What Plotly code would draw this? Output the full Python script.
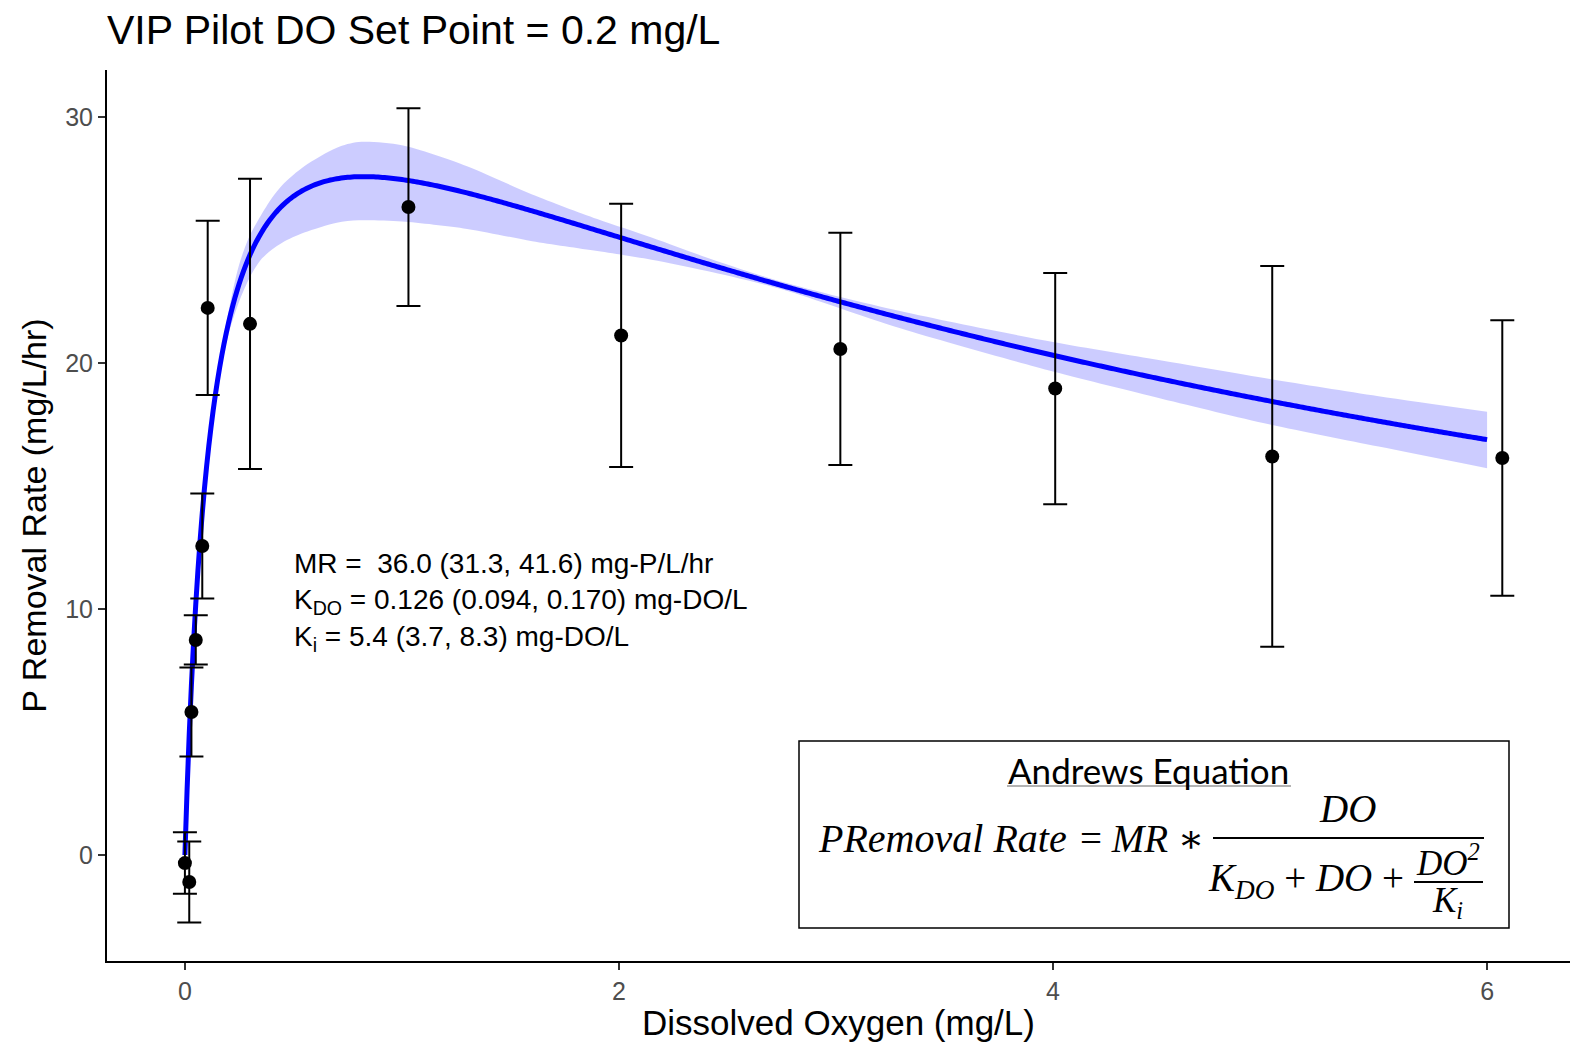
import numpy as np
import plotly.graph_objects as go

# Observed P removal rates (mean with error half-width) at each DO level
do_obs = [0.0, 0.02, 0.03, 0.05, 0.08, 0.105, 0.30, 1.03, 2.01, 3.02, 4.01, 5.01, 6.07]
rate_obs = [-0.33, -1.10, 5.81, 8.74, 12.56, 22.24, 21.59, 26.34, 21.12, 20.57, 18.96, 16.20, 16.14]
rate_err = [1.25, 1.65, 1.81, 1.00, 2.13, 3.54, 5.90, 4.02, 5.35, 4.72, 4.70, 7.74, 5.60]

# Fitted Andrews parameters (estimate, lower, upper)
MR = (36.0, 31.3, 41.6)
KDO = (0.126, 0.094, 0.170)
KI = (5.4, 3.7, 8.3)

# Confidence band of the fit
band_do = [0.0, 0.02, 0.05, 0.10, 0.15, 0.20, 0.25, 0.30, 0.35, 0.40, 0.45, 0.55,
           0.70, 0.80, 1.00, 1.30, 1.60, 1.90, 2.15, 2.40, 2.75, 3.30, 4.00, 4.50,
           5.00, 5.50, 6.00]
band_hi = [0.0, 5.0, 10.35, 16.0, 19.55, 22.05, 24.0, 25.2, 26.0, 26.7, 27.25, 28.0,
           28.75, 28.98, 28.85, 28.0, 26.85, 25.85, 25.1, 24.3, 23.3, 22.1, 20.85, 20.1,
           19.35, 18.65, 18.02]
band_lo = [0.0, 4.85, 10.05, 15.6, 19.0, 21.15, 22.5, 23.5, 24.2, 24.6, 24.9, 25.3,
           25.7, 25.8, 25.75, 25.45, 24.95, 24.55, 24.2, 23.75, 23.0, 21.4, 19.65, 18.55,
           17.5, 16.6, 15.72]

x_ticks = [0, 2, 4, 6]
y_ticks = [0, 10, 20, 30]

# Fitted curve from the Andrews equation
do_fit = np.linspace(0, 6, 601)
rate_fit = MR[0] * do_fit / (KDO[0] + do_fit + do_fit ** 2 / KI[0])

W, H = 1570, 1042
ML, MRG, MT, MB = 107, 0, 70, 81
PW, PH = W - ML - MRG, H - MT - MB


def fx(p):
    return (p - ML) / PW


def fy(p):
    return (H - MB - p) / PH


SANS = "Liberation Sans, Arial, sans-serif"
SERIF = "Liberation Serif, DejaVu Serif, serif"

fig = go.Figure()

# confidence band: lower edge, then upper edge filled down to it
fig.add_trace(go.Scatter(
    x=band_do, y=band_lo, mode="lines",
    line=dict(width=0, shape="spline", smoothing=0.8),
    hoverinfo="skip", showlegend=False))
fig.add_trace(go.Scatter(
    x=band_do, y=band_hi, mode="lines", fill="tonexty",
    fillcolor="rgba(0,0,255,0.2)",
    line=dict(width=0, shape="spline", smoothing=0.8),
    hoverinfo="skip", showlegend=False))

fig.add_trace(go.Scatter(
    x=do_fit, y=rate_fit, mode="lines",
    line=dict(color="#0000FF", width=5, simplify=False), showlegend=False))

fig.add_trace(go.Scatter(
    x=do_obs, y=rate_obs, mode="markers",
    marker=dict(color="black", size=14),
    error_y=dict(type="data", array=rate_err, color="black", thickness=2, width=12),
    showlegend=False))

param_text = (
    f"MR =  {MR[0]:.1f} ({MR[1]:.1f}, {MR[2]:.1f}) mg-P/L/hr<br>"
    f"K<sub>DO</sub> = {KDO[0]:.3f} ({KDO[1]:.3f}, {KDO[2]:.3f}) mg-DO/L<br>"
    f"K<sub>i</sub> = {KI[0]:.1f} ({KI[1]:.1f}, {KI[2]:.1f}) mg-DO/L"
)

annotations = [
    dict(text=param_text, x=fx(292), y=fy(602), xref="paper", yref="paper",
         xanchor="left", yanchor="middle", align="left", showarrow=False,
         font=dict(family=SANS, size=28, color="black")),
    dict(text="Andrews Equation", x=fx(1148), y=fy(770), xref="paper", yref="paper",
         xanchor="center", yanchor="middle", showarrow=False,
         font=dict(family="Lato, Carlito, sans-serif", size=35, color="black")),
    dict(text="<i>PRemoval Rate</i>", x=fx(942), y=fy(838), xref="paper", yref="paper",
         xanchor="center", yanchor="middle", showarrow=False,
         font=dict(family=SERIF, size=40, color="black")),
    dict(text="= <i>MR</i> ∗", x=fx(1206), y=fy(838), xref="paper", yref="paper",
         xanchor="right", yanchor="middle", showarrow=False,
         font=dict(family=SERIF, size=39, color="black")),
    dict(text="<i>DO</i>", x=fx(1347), y=fy(808), xref="paper", yref="paper",
         xanchor="center", yanchor="middle", showarrow=False,
         font=dict(family=SERIF, size=39, color="black")),
    dict(text="<i>K<sub>DO</sub></i> + <i>DO</i> +", x=fx(1406), y=fy(880), xref="paper",
         yref="paper", xanchor="right", yanchor="middle", showarrow=False,
         font=dict(family=SERIF, size=39, color="black")),
    dict(text="<i>DO<sup>2</sup></i>", x=fx(1448), y=fy(860), xref="paper", yref="paper",
         xanchor="center", yanchor="middle", showarrow=False,
         font=dict(family=SERIF, size=35, color="black")),
    dict(text="<i>K<sub>i</sub></i>", x=fx(1447), y=fy(902), xref="paper", yref="paper",
         xanchor="center", yanchor="middle", showarrow=False,
         font=dict(family=SERIF, size=35, color="black")),
]

shapes = [
    dict(type="rect", xref="paper", yref="paper", x0=fx(799), x1=fx(1509), y0=fy(928),
         y1=fy(741), line=dict(color="black", width=1.5), fillcolor="white", layer="above"),
    dict(type="line", xref="paper", yref="paper", x0=fx(1007), x1=fx(1291), y0=fy(786),
         y1=fy(786), line=dict(color="#9a9a9a", width=1.5)),
    dict(type="line", xref="paper", yref="paper", x0=fx(1213), x1=fx(1484), y0=fy(838),
         y1=fy(838), line=dict(color="black", width=2)),
    dict(type="line", xref="paper", yref="paper", x0=fx(1414), x1=fx(1483), y0=fy(882),
         y1=fy(882), line=dict(color="black", width=2)),
]

axis_common = dict(
    showgrid=False, zeroline=False, showline=True, linecolor="black", linewidth=2,
    ticks="outside", ticklen=7, tickwidth=1.5, tickcolor="#333333",
    tickfont=dict(family=SANS, size=25, color="#4D4D4D"),
)

fig.update_layout(
    width=W, height=H, autosize=False,
    margin=dict(l=ML, r=MRG, t=MT, b=MB),
    paper_bgcolor="white", plot_bgcolor="white",
    title=dict(text="VIP Pilot DO Set Point = 0.2 mg/L", x=fx(107), xref="paper",
               xanchor="left", y=1 - 30 / H, yref="container", yanchor="middle",
               font=dict(family=SANS, size=41, color="black")),
    xaxis=dict(range=[-0.359, 6.382], tickvals=x_ticks,
               title=dict(text="Dissolved Oxygen (mg/L)", standoff=8,
                          font=dict(family=SANS, size=35, color="black")),
               **axis_common),
    yaxis=dict(range=[-4.31, 31.91], tickvals=y_ticks,
               title=dict(text="P Removal Rate (mg/L/hr)", standoff=8,
                          font=dict(family=SANS, size=34, color="black")),
               **axis_common),
    annotations=annotations,
    shapes=shapes,
)

fig.write_html("out.html")
